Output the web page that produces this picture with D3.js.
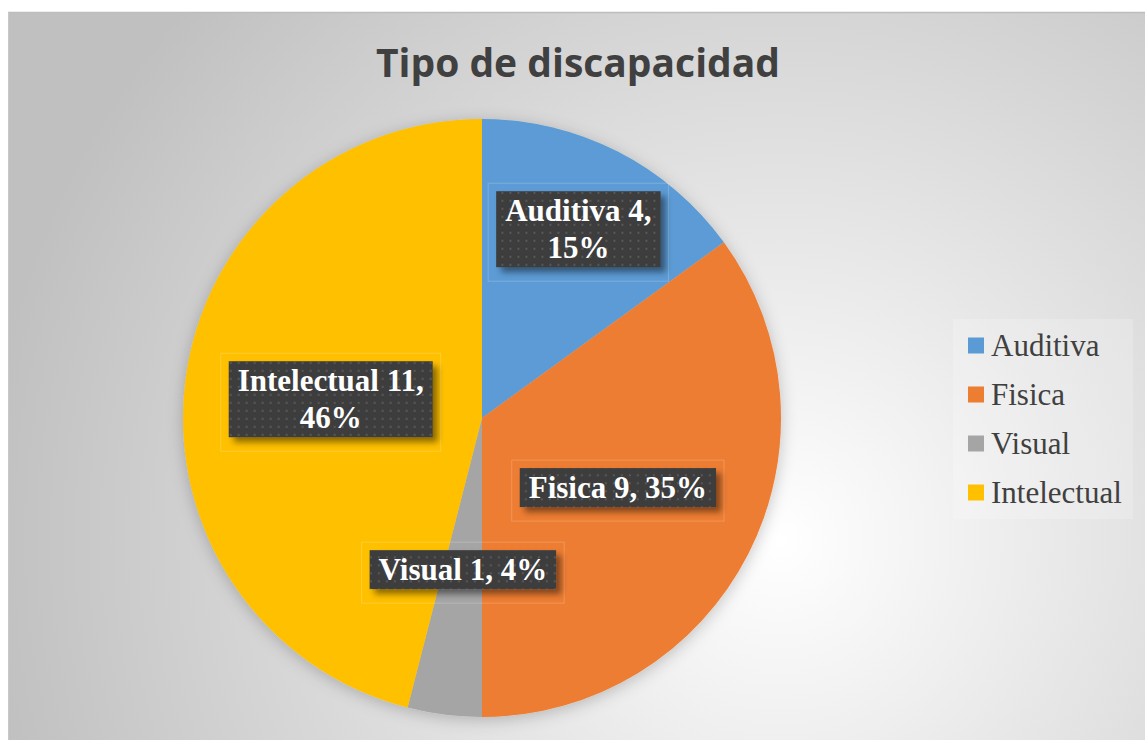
<!DOCTYPE html>
<html>
<head>
<meta charset="utf-8">
<script src="https://cdn.jsdelivr.net/npm/d3@7"></script>
<style>
  body { margin: 0; background: #fff; }
</style>
</head>
<body>
<script>
// data
var categories = ["Auditiva", "Fisica", "Visual", "Intelectual"];
var counts = [4, 9, 1, 11];
var percents = [15, 35, 4, 46];
var colors = ["#5B9BD5", "#ED7D31", "#A5A5A5", "#FFC000"];

var width = 1145, height = 740;
var cx = 482, cy = 418, radius = 299;

var svg = d3.select("body").append("svg")
    .attr("width", width)
    .attr("height", height);

var defs = svg.append("defs");

// background gradient
var bg = defs.append("radialGradient").attr("id", "bg")
    .attr("gradientUnits", "userSpaceOnUse")
    .attr("cx", 780).attr("cy", 540).attr("r", 800);
bg.append("stop").attr("offset", "0%").attr("stop-color", "#ffffff");
bg.append("stop").attr("offset", "100%").attr("stop-color", "#c0c0c0");

// dotted pattern for label boxes
var pat = defs.append("pattern").attr("id", "dots")
    .attr("patternUnits", "userSpaceOnUse")
    .attr("width", 8).attr("height", 8);
pat.append("rect").attr("width", 8).attr("height", 8).attr("fill", "#3e3e3e");
pat.append("rect").attr("x", 3).attr("y", 3).attr("width", 2).attr("height", 2).attr("fill", "#575757");

var shadow = defs.append("filter").attr("id", "shadow")
    .attr("x", "-20%").attr("y", "-20%").attr("width", "150%").attr("height", "160%");
shadow.append("feDropShadow").attr("dx", 5).attr("dy", 5).attr("stdDeviation", 3)
    .attr("flood-color", "#000").attr("flood-opacity", 0.45);

var pieShadow = defs.append("filter").attr("id", "pieShadow")
    .attr("x", "-20%").attr("y", "-20%").attr("width", "140%").attr("height", "140%");
pieShadow.append("feDropShadow").attr("dx", 0).attr("dy", 3).attr("stdDeviation", 8)
    .attr("flood-color", "#000").attr("flood-opacity", 0.22);

// chart area
svg.append("rect")
    .attr("x", 8).attr("y", 12)
    .attr("width", width - 8).attr("height", height - 12)
    .attr("fill", "url(#bg)");
svg.append("line")
    .attr("x1", 8).attr("x2", width).attr("y1", 12.5).attr("y2", 12.5)
    .attr("stroke", "#bdbdbd").attr("stroke-width", 1.5);
svg.append("line")
    .attr("x1", 8.5).attr("x2", 8.5).attr("y1", 12).attr("y2", height)
    .attr("stroke", "#c8c8c8").attr("stroke-width", 1);

// title
svg.append("text")
    .attr("x", 578).attr("y", 77)
    .attr("text-anchor", "middle")
    .style("font-family", "'Open Sans', 'Liberation Sans', sans-serif")
    .style("font-weight", "bold")
    .style("font-size", "39px")
    .style("fill", "#404040")
    .text("Tipo de discapacidad");

// pie
var data = categories.map(function (c, i) {
    return { name: c, count: counts[i], pct: percents[i], color: colors[i] };
});

var pie = d3.pie().sort(null).value(function (d) { return d.pct; });
var arc = d3.arc().innerRadius(0).outerRadius(radius);

var g = svg.append("g").attr("transform", "translate(" + cx + "," + cy + ")");

g.append("g").attr("filter", "url(#pieShadow)")
  .selectAll("path")
  .data(pie(data))
  .enter().append("path")
    .attr("d", arc)
    .attr("fill", function (d) { return d.data.color; });

// labels
var labelR = { "Auditiva": 0.71 };
var twoLine = { "Auditiva": true, "Intelectual": true };
var fontSize = 31, lineH = 37;

var labels = g.selectAll(".lbl")
  .data(pie(data))
  .enter().append("g")
    .attr("class", "lbl")
    .attr("transform", function (d) {
        var k = labelR[d.data.name] || 0.51;
        var c = d3.arc().innerRadius(radius * k).outerRadius(radius * k).centroid(d);
        return "translate(" + c[0] + "," + c[1] + ")";
    });

labels.each(function (d) {
    var sel = d3.select(this);
    var lines = twoLine[d.data.name]
        ? [d.data.name + " " + d.data.count + ",", d.data.pct + "%"]
        : [d.data.name + " " + d.data.count + ", " + d.data.pct + "%"];

    var frame = sel.append("rect").attr("fill", "none")
        .attr("stroke", "#ffffff").attr("stroke-opacity", 0.2).attr("stroke-width", 1);
    var box = sel.append("rect").attr("fill", "url(#dots)").attr("filter", "url(#shadow)");

    var txt = sel.append("text")
        .attr("text-anchor", "middle")
        .style("font-family", "'Liberation Serif', 'Times New Roman', serif")
        .style("font-weight", "bold")
        .style("font-size", fontSize + "px")
        .style("fill", "#ffffff");
    var y0 = -(lines.length - 1) * lineH / 2;
    lines.forEach(function (l, i) {
        txt.append("tspan").attr("x", 0).attr("y", y0 + i * lineH)
            .attr("dy", "0.35em").text(l);
    });

    var bb = txt.node().getBBox();
    var padX = 9, padY = 2;
    box.attr("x", bb.x - padX).attr("y", bb.y - padY)
        .attr("width", bb.width + 2 * padX).attr("height", bb.height + 2 * padY);
    frame.attr("x", bb.x - padX - 8).attr("y", bb.y - padY - 8)
        .attr("width", bb.width + 2 * padX + 16).attr("height", bb.height + 2 * padY + 22);
});

// legend
var legend = svg.append("g").attr("transform", "translate(953,319)");
legend.append("rect")
    .attr("width", 180).attr("height", 200)
    .attr("fill", "#ffffff").attr("fill-opacity", 0.2);

var ly = d3.scaleBand().domain(categories).range([0, 196]);

var items = legend.selectAll(".item")
  .data(data)
  .enter().append("g")
    .attr("class", "item")
    .attr("transform", function (d) {
        return "translate(15," + (ly(d.name) + ly.bandwidth() / 2 + 2) + ")";
    });

items.append("rect")
    .attr("x", 0).attr("y", -8)
    .attr("width", 16).attr("height", 16)
    .attr("fill", function (d) { return d.color; });

items.append("text")
    .attr("x", 23).attr("dy", "0.35em")
    .style("font-family", "'Liberation Serif', 'Times New Roman', serif")
    .style("font-size", "31px")
    .style("fill", "#404040")
    .text(function (d) { return d.name; });
</script>
</body>
</html>
